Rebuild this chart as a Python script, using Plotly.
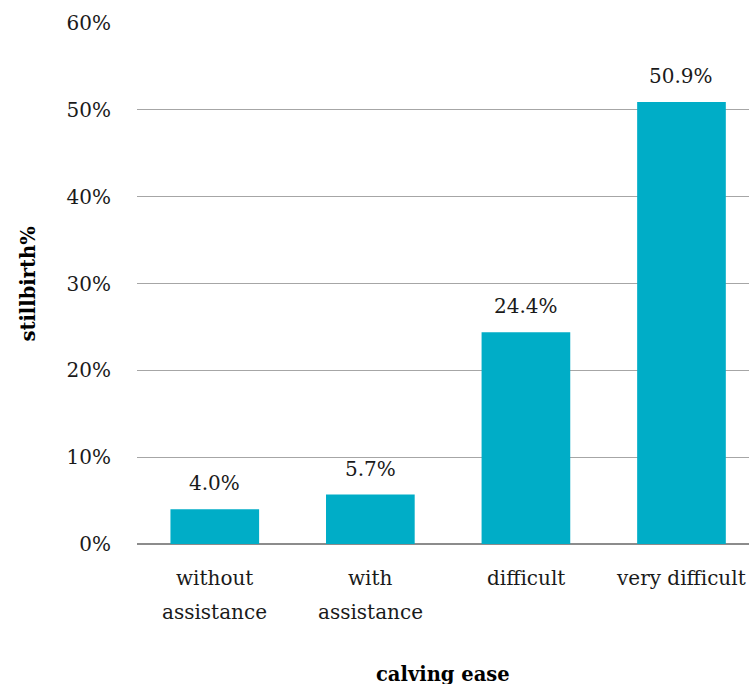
import plotly.graph_objects as go

categories = ["without<br>assistance", "with<br>assistance", "difficult", "very difficult"]
values = [4.0, 5.7, 24.4, 50.9]
value_labels = ["4.0%", "5.7%", "24.4%", "50.9%"]
y_ticks = [0, 10, 20, 30, 40, 50, 60]
y_tick_labels = ["0%", "10%", "20%", "30%", "40%", "50%", "60%"]

FONT = "DejaVu Serif"
FS = 20
BAR_COLOR = "#00ADC7"

x_idx = list(range(len(categories)))

fig = go.Figure()
fig.add_trace(go.Bar(
    x=x_idx, y=values, width=0.57,
    marker=dict(color=BAR_COLOR, line=dict(width=0)),
    hoverinfo="skip",
))

annotations = []
for i, (v, t) in enumerate(zip(values, value_labels)):
    annotations.append(dict(x=i, y=v, xref="x", yref="y", text=t, showarrow=False,
                            yanchor="middle", yshift=26, font=dict(family=FONT, size=FS, color="#1a1a1a")))
for i, c in enumerate(categories):
    for j, line in enumerate(c.split("<br>")):
        annotations.append(dict(x=i, y=0, xref="x", yref="paper", text=line, showarrow=False,
                                yanchor="middle", yshift=-34 - 34 * j,
                                font=dict(family=FONT, size=FS, color="#1a1a1a")))
annotations.append(dict(x=0.5, y=0, xref="paper", yref="paper", text="<b>calving ease</b>",
                        showarrow=False, yanchor="middle", yshift=-130,
                        font=dict(family=FONT, size=FS - 0.5, color="#000000")))
annotations.append(dict(x=-0.178, y=0.5, xref="paper", yref="paper", text="<b>stillbirth%</b>",
                        showarrow=False, textangle=-90, xanchor="center", yanchor="middle",
                        font=dict(family=FONT, size=FS - 0.5, color="#000000")))

fig.update_layout(
    width=749, height=684,
    margin=dict(l=137, r=0, t=23, b=140),
    paper_bgcolor="white", plot_bgcolor="white",
    showlegend=False,
    xaxis=dict(range=[-0.5, 3.434], showticklabels=False, showgrid=False, zeroline=False,
               showline=False, ticks=""),
    yaxis=dict(range=[0, 60], tickvals=y_ticks, ticktext=y_tick_labels,
               showgrid=True, gridcolor="#A6A6A6", gridwidth=1, zeroline=True,
               zerolinecolor="#8C8C8C", zerolinewidth=1.5, showline=False, ticks="",
               ticklabelstandoff=25,
               tickfont=dict(family=FONT, size=FS, color="#1a1a1a")),
    annotations=annotations,
)

fig.write_html("out.html")
